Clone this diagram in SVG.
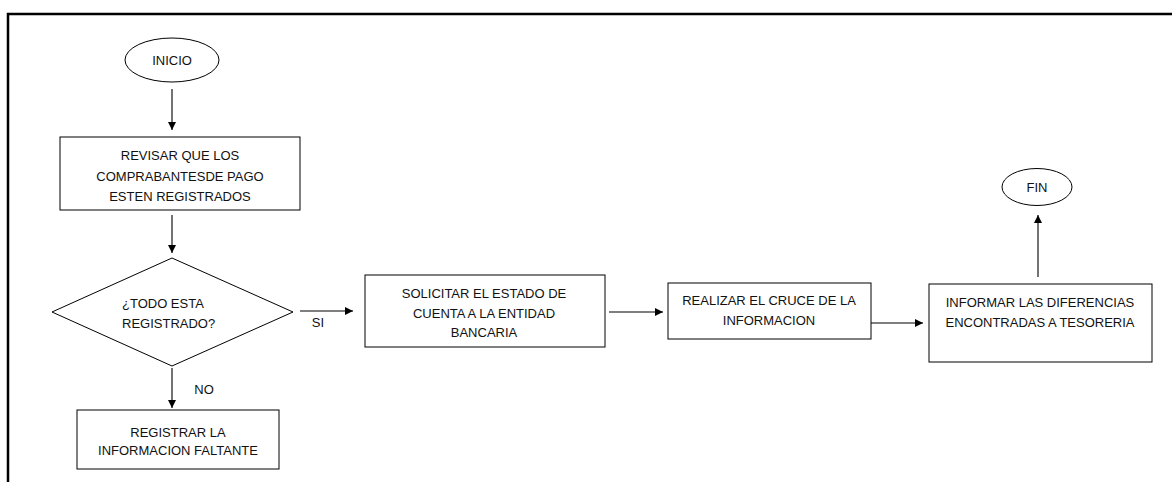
<svg xmlns="http://www.w3.org/2000/svg" width="1172" height="482" viewBox="0 0 1172 482">
  <style>
    .shape { fill: #fff; stroke: #000; stroke-width: 1; }
    .frame { fill: none; stroke: #000; stroke-width: 2.5; }
    .conn { fill: none; stroke: #000; stroke-width: 1.1; marker-end: url(#arrow); }
    text { font-family: "Liberation Sans", Arial, sans-serif; font-size: 13px; fill: #111; text-anchor: middle; }
  </style>
  <defs>
    <marker id="arrow" viewBox="0 0 10 10" refX="10" refY="5" markerWidth="8" markerHeight="8" markerUnits="userSpaceOnUse" orient="auto">
      <path d="M0,0 L10,5 L0,10 z" fill="#000"/>
    </marker>
  </defs>
  <rect width="1172" height="482" fill="#fff"/>

  <!-- page frame (top and left edges) -->
  <path class="frame" d="M8,482 V14 H1172"/>

  <g id="inicio">
    <ellipse class="shape" cx="172" cy="60" rx="47" ry="22"/>
    <text x="172" y="65">INICIO</text>
  </g>

  <g id="revisar">
    <rect class="shape" x="60" y="137" width="240" height="73"/>
    <text x="180" y="160">REVISAR QUE LOS</text>
    <text x="180" y="181">COMPRABANTESDE PAGO</text>
    <text x="180" y="201">ESTEN REGISTRADOS</text>
  </g>

  <g id="decision">
    <polygon class="shape" points="172,258 293,312 172,366 52,312"/>
    <text x="122" y="308" style="text-anchor:start">¿TODO ESTA</text>
    <text x="122" y="328" style="text-anchor:start">REGISTRADO?</text>
  </g>

  <g id="registrar">
    <rect class="shape" x="77" y="410" width="202" height="59"/>
    <text x="178" y="437">REGISTRAR LA</text>
    <text x="178" y="455">INFORMACION FALTANTE</text>
  </g>

  <g id="solicitar">
    <rect class="shape" x="365" y="275" width="240" height="72"/>
    <text x="484" y="298">SOLICITAR EL ESTADO DE</text>
    <text x="484" y="318">CUENTA A LA ENTIDAD</text>
    <text x="484" y="337">BANCARIA</text>
  </g>

  <g id="realizar">
    <rect class="shape" x="668" y="283" width="203" height="56"/>
    <text x="769" y="305">REALIZAR EL CRUCE DE LA</text>
    <text x="769" y="325">INFORMACION</text>
  </g>

  <g id="informar">
    <rect class="shape" x="929" y="284" width="223" height="78"/>
    <text x="1040" y="307">INFORMAR LAS DIFERENCIAS</text>
    <text x="1040" y="327">ENCONTRADAS A TESORERIA</text>
  </g>

  <g id="fin">
    <ellipse class="shape" cx="1037" cy="187" rx="35" ry="18.5"/>
    <text x="1037" y="192">FIN</text>
  </g>

  <g id="connectors">
    <line class="conn" x1="172" y1="89" x2="172" y2="130"/>
    <line class="conn" x1="172" y1="215" x2="172" y2="253"/>
    <line class="conn" x1="300" y1="311" x2="353" y2="311"/>
    <line class="conn" x1="172" y1="368" x2="172" y2="408"/>
    <line class="conn" x1="609" y1="312" x2="663" y2="312"/>
    <line class="conn" x1="871" y1="323" x2="923" y2="323"/>
    <line class="conn" x1="1038" y1="277" x2="1038" y2="215"/>
    <text x="318" y="327">SI</text>
    <text x="204" y="394">NO</text>
  </g>
</svg>
